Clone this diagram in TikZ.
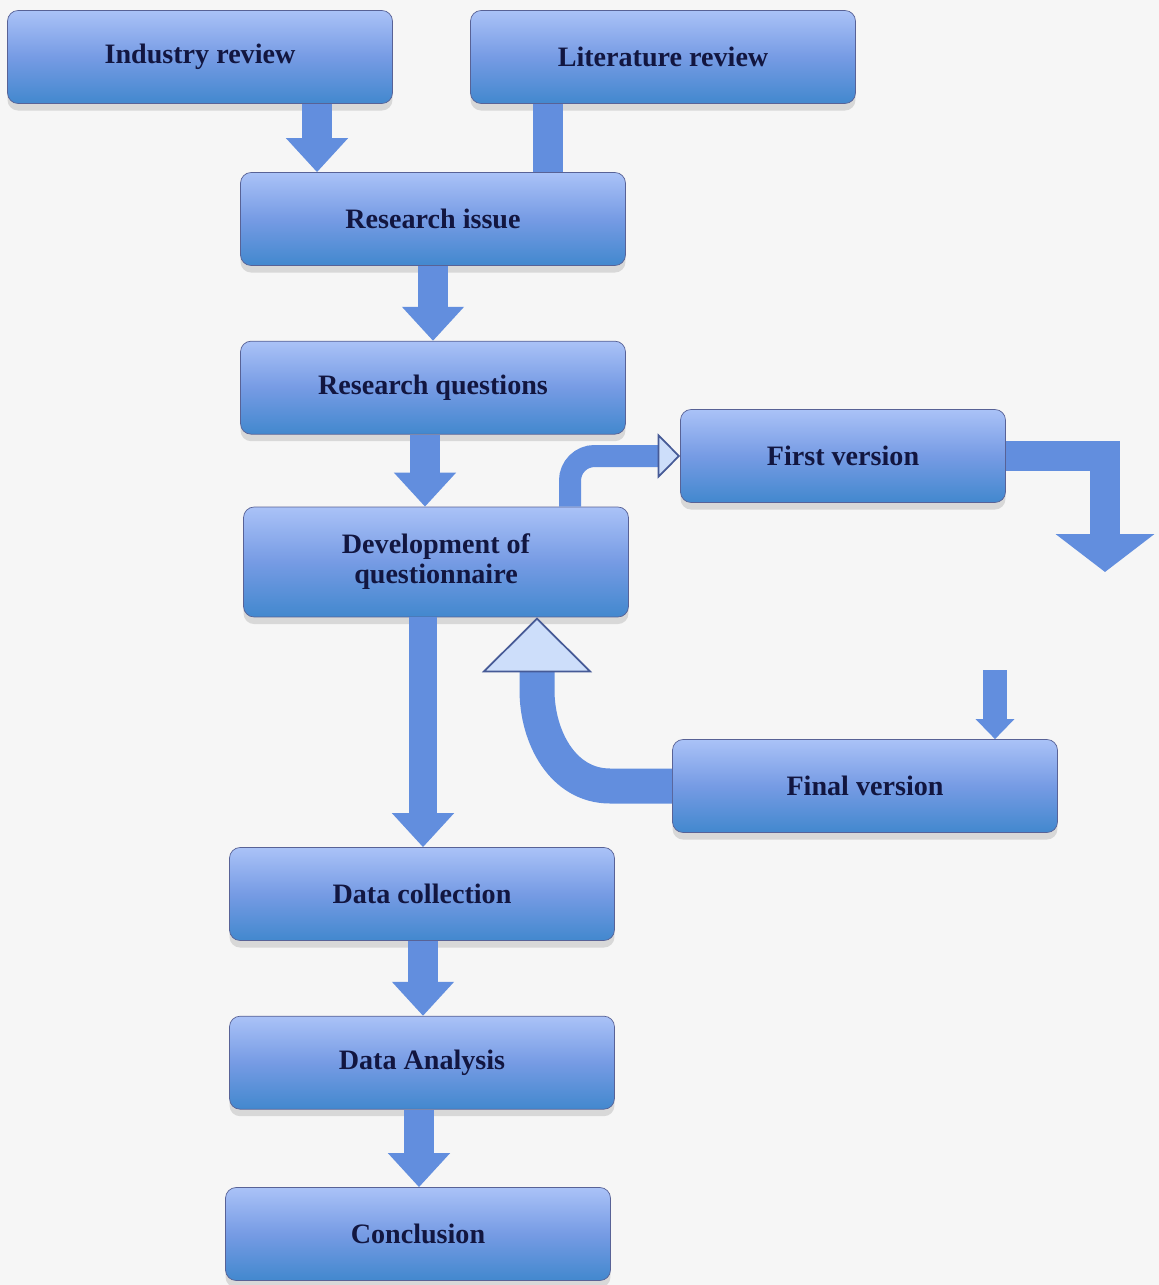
\documentclass[tikz,border=0pt]{standalone}
\usepackage{fontspec}
\setmainfont{Liberation Serif}
\usepackage{xcolor}
\usetikzlibrary{arrows.meta,positioning,shadows}

\definecolor{boxtop}{RGB}{170,194,247}
\definecolor{boxmid}{RGB}{118,155,228}
\definecolor{boxbot}{RGB}{66,136,206}
\definecolor{boxline}{RGB}{88,98,150}
\definecolor{boxtext}{RGB}{18,22,64}
\definecolor{arrowblue}{RGB}{98,142,222}
\definecolor{arrowlight}{RGB}{205,222,250}
\definecolor{arrowline}{RGB}{70,90,150}
\definecolor{bg}{RGB}{246,246,246}

\begin{document}
\begin{tikzpicture}[x=0.02cm, y=-0.02cm, node distance=1.5cm, thick]
\tikzset{stage/.style={rectangle, rounded corners=6pt, draw=boxline, thin,
  top color=boxtop, bottom color=boxbot, middle color=boxmid,
  minimum width=7.7cm, minimum height=1.86cm, align=center, text=boxtext,
  font=\fontsize{16}{17}\selectfont\bfseries,
  drop shadow={opacity=0.25, shadow xshift=0pt, shadow yshift=-4pt}}}
\tikzset{flow/.style={draw=arrowblue, line width=0.6cm, line join=miter,
  -{Triangle[length=0.68cm, width=1.2cm]}}}
\tikzset{hollowtip/.style={-{Triangle[length=#1, width=2*#1, fill=arrowlight, color=arrowline, line width=1pt]}}}
\useasboundingbox (0,0) rectangle (1159,1285);
\fill[bg] (0,0) rectangle (1159,1285);
% boxes
\node[stage] (indus) at (200,57) {Industry review};
\node[stage] (lit) at (663,57) {Literature review};
\node[stage] (issue) at (433,219) {Research issue};
\node[stage] (quest) [below=of issue] {Research questions};
\node[stage, minimum height=2.2cm] (dev) at (436,562) {Development of\\questionnaire};
\node[stage, minimum width=6.5cm] (first) at (843,456) {First version};
\node[stage] (final) at (865,786) {Final version};
\node[stage] (coll) at (422,894) {Data collection};
\node[stage] (anal) [below=of coll] {Data Analysis};
\node[stage] (concl) at (418,1234) {Conclusion};
\coordinate (turn) at (1105,572);
\coordinate (back) at (995,670);
% arrows
\draw[flow] (indus.south -| 317,0) -- (issue.north -| 317,0);
\draw[draw=arrowblue, line width=0.6cm] (lit.south -| 548,0) -- (issue.north -| 548,0);
\draw[flow] (issue) -- (quest);
\draw[flow] (quest.south -| 425,0) -- (dev.north -| 425,0);
\draw[flow, line width=0.56cm] (dev.south -| 423,0) -- (coll.north -| 423,0);
\draw[flow] (coll.south -| 423,0) -- (anal.north -| 423,0);
\draw[flow] (anal.south -| 419,0) -- (concl.north -| 419,0);
\draw[flow, line width=0.44cm, rounded corners=14pt, hollowtip=0.45cm] (dev.north -| 570,0) |- (first.west);
\draw[flow, -{Triangle[length=0.76cm, width=1.94cm]}] (first.east) -| (turn);
\draw[flow, line width=0.48cm, -{Triangle[length=0.4cm, width=0.75cm]}] (back) -- (final.north -| back);
\draw[flow, line width=0.7cm, hollowtip=1.1cm] (final.west) -- (610,786) to[out=180, in=-90] (537,690) -- (dev.south -| 537,0);
\end{tikzpicture}
\end{document}
